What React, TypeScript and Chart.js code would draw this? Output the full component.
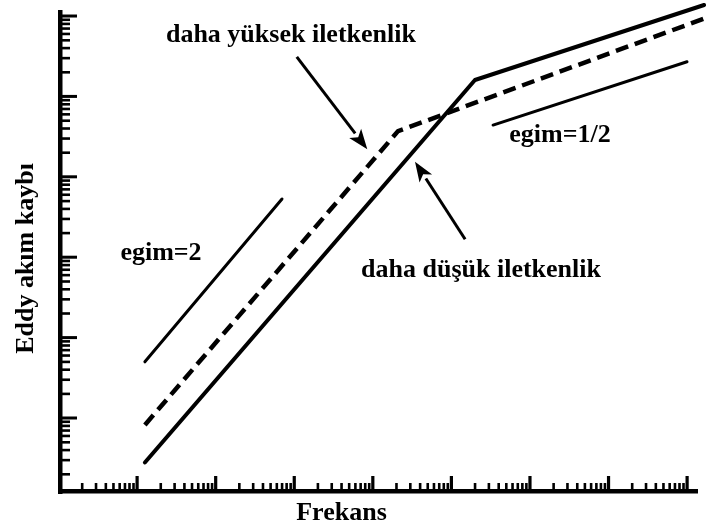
import React, { useEffect, useRef } from "react";
import { Chart, registerables } from "chart.js";

Chart.register(...registerables);

// Break points of the two loss curves (frequency, loss), log–log axes.
const lowCondFreq = [1.26, 2.0e4, 1.65e7];
const lowCondLoss = [0.28, 1.6e4, 1.37e5];
const highCondFreq = [1.26, 2.1e3, 1.65e7];
const highCondLoss = [0.82, 3.7e3, 9.3e4];

// Reference slope guides.
const slope2Freq = [1.26, 70];
const slope2Loss = [5.0, 530];
const slopeHalfFreq = [3.4e4, 1.0e7];
const slopeHalfLoss = [4.4e3, 2.7e4];

// Axis ranges and decades for the tick marks (no tick labels are shown).
const FREQ_MIN = 0.1078;
const FREQ_MAX = 1.38e7;
const LOSS_MIN = 0.1236;
const LOSS_MAX = 1.188e5;
const FREQ_DECADES = [0.1, 1, 10, 100, 1e3, 1e4, 1e5, 1e6, 1e7];
const LOSS_DECADES = [0.1, 1, 10, 100, 1e3, 1e4, 1e5];
const MINOR_STEPS = [2, 3, 4, 5, 6, 7, 8, 9];

// Annotation texts, anchored in data coordinates (centre, baseline).
const noteTexts = ["daha yüksek iletkenlik", "daha düşük iletkenlik", "egim=2", "egim=1/2"];
const noteFreq = [91, 2.39e4, 2.02, 2.42e5];
const noteLoss = [4.75e4, 56.7, 92, 2.71e3];

// Arrows: tail -> tip, in data coordinates.
const arrowTailFreq = [108, 1.5e4];
const arrowTailLoss = [3.1e4, 167];
const arrowTipFreq = [853, 3452];
const arrowTipLoss = [2.2e3, 1.54e3];

const X_TITLE = "Frekans";
const Y_TITLE = "Eddy akım kaybı";
const FONT = "bold 26px 'Liberation Serif', 'DejaVu Serif', serif";

const toPoints = (xs: number[], ys: number[]) => xs.map((x, i) => ({ x, y: ys[i] }));

const decorPlugin = {
  id: "logDecor",
  afterDraw(chart: any) {
    const { ctx, chartArea } = chart;
    const xs = chart.scales.x;
    const ys = chart.scales.y;
    const { left, right, top, bottom } = chartArea;
    ctx.save();
    ctx.fillStyle = "#000";
    ctx.strokeStyle = "#000";

    // axis lines
    ctx.fillRect(left - 3, top, 4.5, bottom - top + 3);
    ctx.fillRect(left - 3, bottom - 2, right - left + 3, 4.5);

    // y ticks (pointing inward)
    LOSS_DECADES.forEach((d) => {
      const py = ys.getPixelForValue(d);
      if (py >= top - 1 && py <= bottom) ctx.fillRect(left, py - 1.5, 16, 3);
      MINOR_STEPS.forEach((m) => {
        const v = d * m;
        if (v < LOSS_MIN || v > LOSS_MAX) return;
        const p = ys.getPixelForValue(v);
        ctx.fillRect(left, p - 1.2, 9, 2.6);
      });
    });

    // x ticks (pointing inward)
    FREQ_DECADES.forEach((d) => {
      const px = xs.getPixelForValue(d);
      if (px >= left && px <= right) ctx.fillRect(px - 1.5, bottom - 15, 3.2, 15);
      MINOR_STEPS.forEach((m) => {
        const v = d * m;
        if (v < FREQ_MIN || v > FREQ_MAX) return;
        const p = xs.getPixelForValue(v);
        ctx.fillRect(p - 1.2, bottom - 8, 2.6, 8);
      });
    });

    // arrows
    arrowTailFreq.forEach((_, i) => {
      const x0 = xs.getPixelForValue(arrowTailFreq[i]);
      const y0 = ys.getPixelForValue(arrowTailLoss[i]);
      const x1 = xs.getPixelForValue(arrowTipFreq[i]);
      const y1 = ys.getPixelForValue(arrowTipLoss[i]);
      const ang = Math.atan2(y1 - y0, x1 - x0);
      const headLen = 20;
      const headHalf = 7.5;
      const bx = x1 - headLen * Math.cos(ang);
      const by = y1 - headLen * Math.sin(ang);
      ctx.lineWidth = 3;
      ctx.beginPath();
      ctx.moveTo(x0, y0);
      ctx.lineTo(bx, by);
      ctx.stroke();
      ctx.beginPath();
      ctx.moveTo(x1, y1);
      ctx.lineTo(bx + headHalf * Math.sin(ang), by - headHalf * Math.cos(ang));
      ctx.lineTo(bx + 5 * Math.cos(ang), by + 5 * Math.sin(ang));
      ctx.lineTo(bx - headHalf * Math.sin(ang), by + headHalf * Math.cos(ang));
      ctx.closePath();
      ctx.fill();
    });

    // annotation texts
    ctx.font = FONT;
    ctx.textAlign = "center";
    ctx.textBaseline = "alphabetic";
    noteTexts.forEach((t, i) => {
      ctx.fillText(t, xs.getPixelForValue(noteFreq[i]), ys.getPixelForValue(noteLoss[i]));
    });

    // axis titles
    ctx.fillText(X_TITLE, (left + right) / 2 - 38, bottom + 29);
    ctx.save();
    ctx.translate(33, (top + bottom) / 2 + 8);
    ctx.rotate(-Math.PI / 2);
    ctx.fillText(Y_TITLE, 0, 0);
    ctx.restore();

    ctx.restore();
  },
};

export default function App() {
  const canvasRef = useRef<HTMLCanvasElement | null>(null);

  useEffect(() => {
    const canvas = canvasRef.current;
    if (!canvas) return;
    const base = {
      borderColor: "#000",
      pointRadius: 0,
      tension: 0,
      fill: false,
      clip: false as const,
    };
    const chart = new Chart(canvas, {
      type: "line",
      data: {
        datasets: [
          { ...base, label: "low", data: toPoints(lowCondFreq, lowCondLoss), borderWidth: 4, borderCapStyle: "round", borderJoinStyle: "round" },
          { ...base, label: "high", data: toPoints(highCondFreq, highCondLoss), borderWidth: 4.5, borderDash: [13, 7] },
          { ...base, label: "slope2", data: toPoints(slope2Freq, slope2Loss), borderWidth: 3, borderCapStyle: "round" },
          { ...base, label: "slopeHalf", data: toPoints(slopeHalfFreq, slopeHalfLoss), borderWidth: 3, borderCapStyle: "round" },
        ] as any,
      },
      options: {
        responsive: false,
        animation: false,
        events: [],
        layout: { padding: { left: 61, right: 9, top: 10, bottom: 38 } },
        plugins: { legend: { display: false }, tooltip: { enabled: false } },
        scales: {
          x: { type: "logarithmic", min: FREQ_MIN, max: FREQ_MAX, display: false },
          y: { type: "logarithmic", min: LOSS_MIN, max: LOSS_MAX, display: false },
        },
      },
      plugins: [decorPlugin],
    });
    return () => chart.destroy();
  }, []);

  return (
    <div style={{ position: "fixed", left: 0, top: 0, width: 707, height: 529, background: "#fff" }}>
      <canvas ref={canvasRef} width={707} height={529} />
    </div>
  );
}
